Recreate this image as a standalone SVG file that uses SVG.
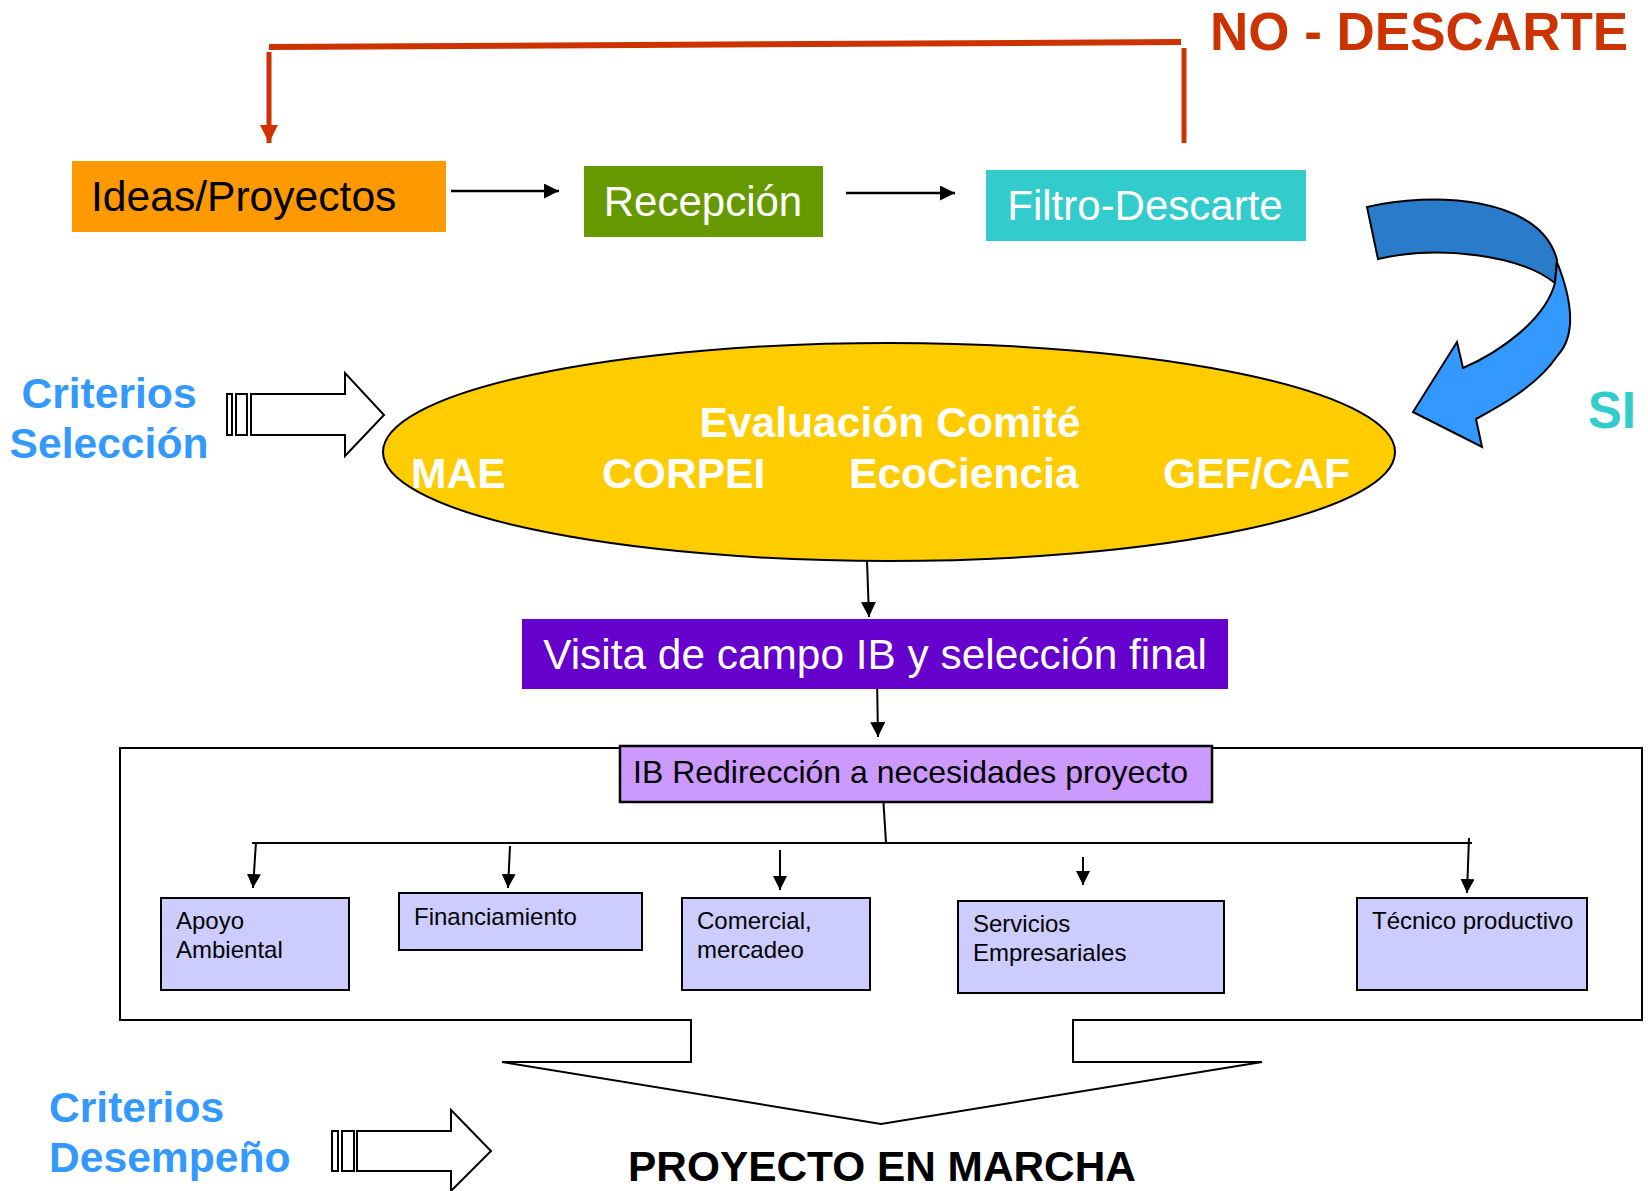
<svg xmlns="http://www.w3.org/2000/svg" width="1648" height="1191" viewBox="0 0 1648 1191">
<defs>
<marker id="ah" viewBox="0 0 10 10" refX="10" refY="5" markerWidth="15" markerHeight="15" markerUnits="userSpaceOnUse" orient="auto"><path d="M0,0 L10,5 L0,10 z" fill="#000"/></marker>
<marker id="ahs" viewBox="0 0 10 10" refX="10" refY="5" markerWidth="14" markerHeight="14" markerUnits="userSpaceOnUse" orient="auto"><path d="M0,0 L10,5 L0,10 z" fill="#000"/></marker>
<marker id="ahr" viewBox="0 0 10 10" refX="10" refY="5" markerWidth="18" markerHeight="18" markerUnits="userSpaceOnUse" orient="auto"><path d="M0,0 L10,5 L0,10 z" fill="#CC3300"/></marker>
</defs>
<style>
text{font-family:"Liberation Sans",Arial,sans-serif}
.b{font-weight:bold}
.t42{font-size:42px}
.t43{font-size:42.6px}
.w{fill:#fff}
.k{fill:#000}
.blue{fill:#3399FF}
.conn{stroke:#000;stroke-width:2;fill:none}
.sub{fill:#CCCCFF;stroke:#000;stroke-width:2}
.st{font-size:24px;fill:#000}
.blk{fill:#fff;stroke:#000;stroke-width:2}
</style>
<rect width="1648" height="1191" fill="#fff"/>

<g id="frame">
<path class="blk" d="M120,748 L1642,748 L1642,1020 L1073,1020 L1073,1062 L1262,1062 L881,1124 L502,1062 L691,1062 L691,1020 L120,1020 Z"/>
</g>

<g id="connectors">
<line x1="451" y1="191" x2="559" y2="191" stroke="#000" stroke-width="2.5" marker-end="url(#ah)"/>
<line x1="846" y1="193" x2="955" y2="193" stroke="#000" stroke-width="2.5" marker-end="url(#ah)"/>
<line x1="269" y1="47" x2="1181" y2="42" stroke="#CC3300" stroke-width="6"/>
<line x1="1184" y1="48" x2="1184" y2="143" stroke="#CC3300" stroke-width="5"/>
<line x1="269" y1="52" x2="269" y2="143" stroke="#CC3300" stroke-width="5" marker-end="url(#ahr)"/>
<line class="conn" x1="867" y1="561" x2="869" y2="617" marker-end="url(#ah)"/>
<line class="conn" x1="877" y1="677" x2="878" y2="737" marker-end="url(#ah)"/>
<line class="conn" x1="883" y1="795" x2="886" y2="843"/>
<line class="conn" x1="252" y1="843" x2="1472" y2="843"/>
<line class="conn" x1="256" y1="842" x2="253" y2="888" marker-end="url(#ahs)"/>
<line class="conn" x1="510" y1="846" x2="508" y2="888" marker-end="url(#ahs)"/>
<line class="conn" x1="780" y1="850" x2="780" y2="890" marker-end="url(#ahs)"/>
<line class="conn" x1="1083" y1="857" x2="1083" y2="885" marker-end="url(#ahs)"/>
<line class="conn" x1="1469" y1="838" x2="1467" y2="893" marker-end="url(#ahs)"/>
</g>

<g id="si-arrow">
<path d="M1367,207 C1430,192 1540,195 1557,260 L1555,283 C1520,255 1440,245 1378,259 Z" fill="#2B7BCB" stroke="#000" stroke-width="2"/>
<path d="M1557,262 C1572,300 1576,335 1558,355 C1538,385 1502,405 1476,419 L1482,447 L1413,412 L1457,342 L1463,368 C1500,352 1545,320 1555,283 Z" fill="#3399FF" stroke="#000" stroke-width="2"/>
</g>

<g id="no-descarte"><text x="1210" y="50" class="b" font-size="53" fill="#CC3300">NO - DESCARTE</text></g>
<g id="si"><text x="1588" y="428" class="b" font-size="51" fill="#33CCCC">SI</text></g>

<g id="ideas">
<rect x="72" y="161" width="374" height="71" fill="#FF9900"/>
<text x="91" y="211" font-size="42.6" class="k">Ideas/Proyectos</text>
</g>
<g id="recepcion">
<rect x="584" y="166" width="239" height="71" fill="#669900"/>
<text x="703" y="216" class="t42 w" text-anchor="middle">Recepción</text>
</g>
<g id="filtro">
<rect x="986" y="170" width="320" height="71" fill="#33CCCC"/>
<text x="1145" y="220" class="t42 w" text-anchor="middle">Filtro-Descarte</text>
</g>

<g id="criterios-seleccion">
<text x="109" y="408" class="b t43 blue" text-anchor="middle">Criterios</text>
<text x="109" y="458" class="b t43 blue" text-anchor="middle">Selección</text>
</g>
<g id="arrow-seleccion">
<rect class="blk" x="227" y="394" width="5" height="41"/>
<rect class="blk" x="236" y="394" width="11" height="41"/>
<path class="blk" d="M251,394 L345,394 L345,373 L384,415 L345,456 L345,435 L251,435 Z"/>
</g>

<g id="evaluacion">
<ellipse cx="889" cy="452" rx="506" ry="109" fill="#FFCC00" stroke="#000" stroke-width="2"/>
<text x="890" y="437" class="b t43 w" text-anchor="middle">Evaluación Comité</text>
<text x="411" y="488" class="b t43 w">MAE</text>
<text x="602" y="488" class="b t43 w">CORPEI</text>
<text x="849" y="488" class="b t43 w">EcoCiencia</text>
<text x="1163" y="488" class="b t43 w">GEF/CAF</text>
</g>

<g id="visita">
<rect x="522" y="619" width="706" height="70" fill="#6600CC"/>
<text x="875" y="669" font-size="42.4" class="w" text-anchor="middle">Visita de campo IB y selección final</text>
</g>

<g id="ib">
<rect x="620" y="746" width="592" height="56" fill="#CC99FF" stroke="#000" stroke-width="2.5"/>
<text x="633" y="783" font-size="32" class="k">IB Redirección a necesidades proyecto</text>
</g>

<g id="apoyo">
<rect class="sub" x="161" y="898" width="188" height="92"/>
<text x="176" y="929" class="st">Apoyo</text>
<text x="176" y="958" class="st">Ambiental</text>
</g>
<g id="financiamiento">
<rect class="sub" x="399" y="893" width="243" height="57"/>
<text x="414" y="925" class="st">Financiamiento</text>
</g>
<g id="comercial">
<rect class="sub" x="682" y="898" width="188" height="92"/>
<text x="697" y="929" class="st">Comercial,</text>
<text x="697" y="958" class="st">mercadeo</text>
</g>
<g id="servicios">
<rect class="sub" x="958" y="901" width="266" height="92"/>
<text x="973" y="932" class="st">Servicios</text>
<text x="973" y="961" class="st">Empresariales</text>
</g>
<g id="tecnico">
<rect class="sub" x="1357" y="898" width="230" height="92"/>
<text x="1372" y="929" class="st">Técnico productivo</text>
</g>

<g id="criterios-desempeno">
<text x="49" y="1122" class="b t43 blue">Criterios</text>
<text x="49" y="1172" class="b t43 blue">Desempeño</text>
</g>
<g id="arrow-desempeno">
<rect class="blk" x="332" y="1131" width="6" height="40"/>
<rect class="blk" x="342" y="1131" width="12" height="40"/>
<path class="blk" d="M357,1131 L451,1131 L451,1110 L491,1151 L451,1191 L451,1171 L357,1171 Z"/>
</g>

<g id="proyecto-marcha"><text x="882" y="1181" font-size="42.4" class="b k" text-anchor="middle">PROYECTO EN MARCHA</text></g>
</svg>
